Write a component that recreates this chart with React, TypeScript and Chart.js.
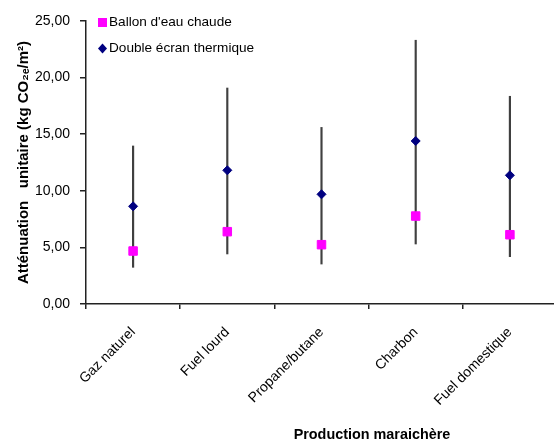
import React, { useEffect, useRef } from "react";
import { Chart, registerables } from "chart.js";

Chart.register(...registerables);

const categories = ["Gaz naturel", "Fuel lourd", "Propane/butane", "Charbon", "Fuel domestique"];
const ballonValues = [4.68, 6.39, 5.24, 7.77, 6.12];
const doubleEcranValues = [8.63, 11.81, 9.69, 14.4, 11.37];
const errLow = [3.24, 4.42, 3.53, 5.3, 4.18];
const errHigh = [13.96, 19.08, 15.6, 23.3, 18.35];
const yTicks = [0, 5, 10, 15, 20, 25];

const seriesNames = ["Ballon d'eau chaude", "Double écran thermique"];
const yTitle = "Atténuation   unitaire (kg CO₂ₑ/m²)";
const xTitle = "Production maraichère";

const FONT = "'Liberation Sans', Arial, sans-serif";

const overlayPlugin = {
  id: "overlay",
  afterDraw(chart: any) {
    const { ctx, chartArea } = chart;
    ctx.save();
    // legend
    const lx = chartArea.left + 12;
    ctx.fillStyle = "#FF00FF";
    ctx.fillRect(lx, 18, 9, 9);
    ctx.fillStyle = "#000080";
    const dy = 48.5;
    const dx = lx + 4.5;
    ctx.beginPath();
    ctx.moveTo(dx, dy - 5);
    ctx.lineTo(dx + 4.5, dy);
    ctx.lineTo(dx, dy + 5);
    ctx.lineTo(dx - 4.5, dy);
    ctx.closePath();
    ctx.fill();
    ctx.fillStyle = "#000";
    ctx.font = `13.6px ${FONT}`;
    ctx.textBaseline = "middle";
    ctx.textAlign = "left";
    ctx.fillText(seriesNames[0], lx + 11, 22.5);
    ctx.fillText(seriesNames[1], lx + 11, dy);
    // x title
    ctx.font = `bold 14.4px ${FONT}`;
    ctx.textAlign = "center";
    ctx.fillText(xTitle, 372, 435);
    ctx.restore();
  },
};

export default function App() {
  const ref = useRef<HTMLCanvasElement>(null);
  useEffect(() => {
    if (!ref.current) return;
    const chart = new Chart(ref.current, {
      type: "bar",
      data: {
        labels: categories,
        datasets: [
          {
            type: "line",
            label: seriesNames[0],
            data: ballonValues,
            showLine: false,
            pointStyle: "rect",
            pointRadius: 6,
            pointBorderWidth: 1,
            backgroundColor: "#FF00FF",
            borderColor: "#FF00FF",
            order: 1,
          } as any,
          {
            type: "line",
            label: seriesNames[1],
            data: doubleEcranValues,
            showLine: false,
            pointStyle: "rectRot",
            pointRadius: 4.5,
            pointBorderWidth: 1,
            backgroundColor: "#000080",
            borderColor: "#000080",
            order: 2,
          } as any,
          {
            type: "bar",
            label: "err",
            data: categories.map((_, i) => [errLow[i], errHigh[i]]),
            backgroundColor: "#404040",
            borderWidth: 0,
            barThickness: 1.5,
            order: 3,
          } as any,
        ],
      },
      options: {
        responsive: false,
        animation: false,
        layout: { padding: { left: 0, top: 21, right: 0, bottom: 0 } },
        plugins: {
          legend: { display: false },
          tooltip: { enabled: false },
        },
        scales: {
          x: {
            offset: true,
            grid: {
              offset: true,
              drawOnChartArea: false,
              drawTicks: true,
              tickLength: 5,
              color: "#222",
              lineWidth: 1.5,
            },
            border: { color: "#222", width: 1.5 },
            ticks: {
              maxRotation: 45,
              minRotation: 45,
              color: "#000",
              font: { family: FONT, size: 14 },
              padding: 15,
            },
            afterFit: (s: any) => {
              s.height = 140;
            },
          },
          y: {
            min: 0,
            max: 25,
            afterBuildTicks: (s: any) => {
              s.ticks = yTicks.map((v) => ({ value: v }));
            },
            grid: {
              drawOnChartArea: false,
              drawTicks: true,
              tickLength: 6,
              color: "#222",
              lineWidth: 1.5,
            },
            border: { color: "#222", width: 1.5 },
            ticks: {
              color: "#000",
              font: { family: FONT, size: 14 },
              padding: 10,
              callback: (v: any) => Number(v).toFixed(2).replace(".", ","),
            },
            title: {
              display: true,
              text: yTitle,
              color: "#000",
              font: { family: FONT, size: 15, weight: "bold" },
              padding: { top: 15, bottom: 0 },
            },
            afterFit: (s: any) => {
              s.width = 86;
            },
          },
        },
      },
      plugins: [overlayPlugin],
    });
    return () => chart.destroy();
  }, []);
  return (
    <div
      style={{
        position: "fixed",
        left: 0,
        top: 0,
        width: 554,
        height: 444,
        overflow: "hidden",
        background: "#fff",
      }}
    >
      <canvas ref={ref} width={564} height={444} style={{ display: "block" }} />
    </div>
  );
}
